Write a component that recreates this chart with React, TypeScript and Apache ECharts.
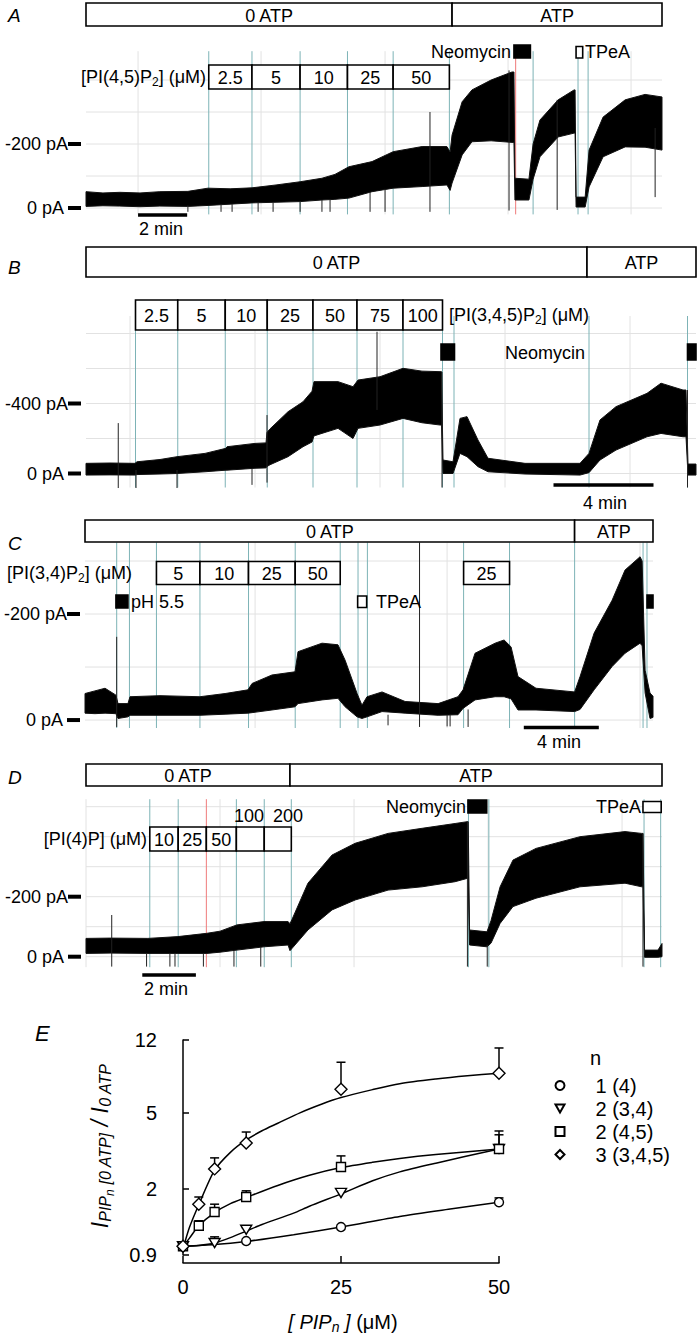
import React, { useEffect, useRef } from 'react';
import * as echarts from 'echarts';

const FONT = '"Liberation Sans", Arial, Helvetica, sans-serif';
const TEAL = '#7db3b6';
const RED = '#ef7a7a';
const GRIDC = '#e2e2e2';

// ---------------- Panel A : PI(4,5)P2 (time in min, current in pA) ----------------
const A_time = [0, 0.69, 1.38, 2.2, 3.01, 4.15, 4.97, 5.87, 6.76, 7.74, 8.72, 9.61, 10.14, 10.71, 11.65, 12.51, 13.69, 14.7, 14.83, 14.91, 15.32, 15.72, 16.5, 17.35, 17.43, 17.47, 18.04, 18.21, 18.49, 19.23, 19.88, 19.92, 19.96, 20.33, 20.49, 21.06, 21.96, 22.77, 23.46];
const A_upper = [-51, -47, -49, -47, -51, -52, -62, -60, -63, -72, -82, -93, -105, -129, -145, -176, -192, -192, -175, -228, -332, -369, -400, -425, -425, -93, -90, -200, -275, -338, -369, -369, -34, -34, -181, -284, -338, -355, -347];
const A_lower = [-5, -7, -6, -4, -6, -5, -8, -12, -16, -18, -20, -25, -27, -31, -51, -62, -67, -72, -55, -78, -166, -207, -210, -205, -205, -25, -25, -90, -160, -222, -234, -234, -3, -3, -66, -160, -191, -190, -181];
const A_atpEdges = [0, 14.91, 23.46];
const A_atpLabels = ['0 ATP', 'ATP'];
const A_concEdges = [5.0, 6.76, 8.72, 10.65, 12.51, 14.8];
const A_concLabels = ['2.5', '5', '10', '25', '50'];
const A_teal = [5.0, 6.76, 8.72, 10.65, 12.51, 14.8, 18.21, 20.04, 20.45];
const A_red = [17.5];
const A_vgrid = [2.12, 7.13, 12.18, 17.19, 22.2];
const A_hgrid = [-400, -300, -200, -100, 0];
const A_ticks = [-200, 0];
const A_spikes = [[4.15, -8, 12], [5.5, -10, 12], [5.95, -12, 12], [7.01, -16, 12], [7.62, -18, 12], [8.72, -20, 12], [9.61, -25, 12], [9.94, -25, 12], [11.57, -50, 12], [12.18, -60, 12], [14.01, -300, 12], [17.23, -430, 8], [19.19, -338, 6], [23.18, -250, -34]];
const A_neomycin = [[17.43, 18.1]];
const A_tpea = [[19.96, 20.23]];
const A_scale = [2.12, 4.12];

// ---------------- Panel B : PI(3,4,5)P3 ----------------
const B_time = [0, 0.96, 1.96, 2.04, 2.96, 3.64, 4.76, 5.6, 5.64, 6.76, 7.2, 7.24, 7.36, 8.08, 8.68, 9.04, 9.12, 10.08, 10.68, 10.88, 11.76, 12.68, 13.44, 14.16, 14.22, 14.28, 14.68, 14.96, 15.24, 15.68, 16.08, 17.56, 19.76, 20.12, 20.56, 21.2, 22.44, 23.0, 23.88, 24.0, 24.08, 24.4];
const B_upper = [-58, -60, -58, -67, -80, -96, -115, -144, -153, -172, -175, -235, -255, -353, -410, -470, -525, -525, -496, -534, -553, -601, -585, -582, -582, -77, -67, -315, -325, -191, -87, -58, -58, -115, -306, -382, -458, -516, -477, -477, -54, -54];
const B_lower = [9, 8, 9, 6, 3, 0, -10, -19, -19, -30, -32, -40, -50, -96, -153, -180, -215, -258, -200, -258, -277, -315, -290, -277, -277, 0, 0, -115, -96, -39, -10, 3, 9, -5, -77, -134, -210, -229, -210, -210, 9, 9];
const B_atpEdges = [0, 20.04, 24.4];
const B_atpLabels = ['0 ATP', 'ATP'];
const B_concEdges = [1.98, 3.67, 5.57, 7.25, 9.08, 10.84, 12.68, 14.26];
const B_concLabels = ['2.5', '5', '10', '25', '50', '75', '100'];
const B_teal = [1.98, 3.67, 5.57, 7.25, 9.08, 10.84, 12.68, 14.26, 14.72, 20.12, 24.06];
const B_vgrid = [1.76, 6.76, 11.76, 16.76, 21.76];
const B_hgrid = [-800, -600, -400, -200, 0];
const B_ticks = [-400, 0];
const B_spikes = [[1.29, -288, 83], [2.0, -20, 83], [3.64, -20, 83], [6.64, -30, 65], [7.24, -334, 52], [11.64, -810, -363], [14.24, -580, 80], [24.06, -477, 80]];
const B_neomycin = [[14.2, 14.74], [24.06, 24.4]];
const B_scale = [18.7, 22.7];

// ---------------- Panel C : PI(3,4)P2 ----------------
const C_time = [0, 0.53, 1.07, 1.65, 1.76, 2.29, 2.4, 4.0, 6.13, 7.47, 8.69, 8.91, 9.97, 11.2, 11.36, 12.64, 13.49, 13.87, 14.51, 14.77, 15.04, 15.84, 17.07, 18.83, 19.89, 20.16, 20.8, 21.87, 22.35, 22.72, 23.09, 24.05, 26.11, 26.4, 27.15, 28.11, 28.8, 29.6, 29.71, 29.87, 30.13, 30.29];
const C_upper = [-50, -55, -60, -47, -31, -31, -44, -46, -44, -50, -57, -69, -85, -91, -129, -145, -142, -113, -50, -28, -44, -53, -35, -31, -44, -57, -126, -145, -151, -138, -82, -60, -53, -82, -164, -226, -283, -308, -300, -94, -51, -45];
const C_lower = [-13, -12, -13, -12, -3, -6, -9, -9, -9, -11, -13, -14, -19, -25, -31, -38, -41, -25, -6, -3, -6, -16, -13, -9, -10, -22, -38, -44, -44, -40, -19, -19, -16, -20, -57, -101, -126, -145, -140, -51, -3, -5];
const C_atpEdges = [0, 26.11, 30.29];
const C_atpLabels = ['0 ATP', 'ATP'];
const C_concEdges = [3.81, 6.13, 8.72, 11.21, 13.61];
const C_concLabels = ['5', '10', '25', '50'];
const C_conc2Edges = [20.19, 22.64];
const C_conc2Labels = ['25'];
const C_teal = [1.69, 2.37, 3.81, 6.13, 8.72, 11.21, 13.61, 14.56, 15.06, 20.19, 22.64, 26.11, 29.76, 29.97];
const C_vgrid = [9.07, 19.31, 29.6];
const C_hgrid = [-300, -200, -100, 0];
const C_ticks = [-200, 0];
const C_spikes = [[1.69, -157, 13], [16.16, -10, 10], [17.84, -335, 13], [19.31, -10, 12], [19.47, -10, 12], [20.43, -20, 13]];
const C_ph = [[1.65, 2.29], [29.97, 30.29]];
const C_tpea = [[14.54, 15.02]];
const C_scale = [23.4, 27.4];

// ---------------- Panel D : PI(4)P ----------------
const D_time = [0, 0.9, 2.31, 3.43, 4.51, 5.0, 5.63, 6.64, 7.54, 7.61, 7.69, 8.28, 9.18, 10.04, 11.27, 12.54, 13.77, 14.22, 14.26, 14.31, 14.96, 15.11, 15.45, 15.93, 16.79, 18.43, 20.11, 20.73, 20.78, 20.84, 21.34, 21.49];
const D_upper = [-61, -62, -61, -67, -78, -85, -106, -117, -117, -110, -125, -245, -339, -378, -411, -428, -444, -450, -450, -89, -83, -120, -233, -322, -361, -400, -417, -411, -411, -22, -22, -44];
const D_lower = [-11, -12, -11, -11, -11, -15, -22, -33, -39, -20, -28, -89, -156, -189, -222, -233, -250, -261, -261, -39, -33, -45, -111, -167, -195, -233, -245, -233, -233, 2, 2, 0];
const D_atpEdges = [0, 7.61, 21.49];
const D_atpLabels = ['0 ATP', 'ATP'];
const D_concEdges = [2.38, 3.44, 4.49, 5.61, 6.65, 7.66];
const D_concLabels = ['10', '25', '50', '', ''];
const D_teal = [2.38, 3.44, 5.61, 6.65, 7.66, 14.27, 15.03, 20.82, 21.44];
const D_red = [4.49];
const D_vgrid = [0, 5, 10, 15, 20];
const D_hgrid = [-500, -400, -300, -200, -100, 0];
const D_ticks = [-200, 0];
const D_spikes = [[0.96, -139, 33], [2.26, -11, 33], [3.13, -11, 33], [3.32, -11, 33], [4.38, -11, 33], [5.52, -20, 33], [6.52, -33, 33], [14.23, -450, 33], [14.97, -40, 33], [20.78, -411, 33]];
const D_neomycin = [[14.25, 14.95]];
const D_tpea = [[20.78, 21.46]];
const D_scale = [2.1, 4.1];

// ---------------- Panel E : dose-response ----------------
const E_names = ['1 (4)', '2 (3,4)', '2 (4,5)', '3 (3,4,5)'];
const E_x1 = [0, 10, 25, 50];
const E_y1 = [1.0, 1.065, 1.26, 1.7];
const E_e1 = [null, null, null, 1.79];
const E_x2 = [0, 5, 10, 25, 50];
const E_y2 = [1.0, 1.04, 1.22, 1.9, 3.23];
const E_e2 = [null, 1.12, 1.25, 1.97, 3.83];
const E_x3 = [0, 2.5, 5, 10, 25, 50];
const E_y3 = [1.0, 1.28, 1.51, 1.81, 2.6, 3.23];
const E_e3 = [null, 1.36, 1.66, 1.95, 2.97, 4.01];
const E_x4 = [0, 2.5, 5, 10, 25, 50];
const E_y4 = [1.0, 1.66, 2.54, 3.47, 6.63, 8.04];
const E_e4 = [null, 1.81, 2.9, 3.96, 9.18, 10.9];
// fitted curves
const E_fitX1 = [0, 5, 10, 17.5, 25, 34.3, 42, 50];
const E_fitY1 = [1.0, 1.02, 1.06, 1.15, 1.26, 1.43, 1.56, 1.7];
const E_fitX2 = [0, 2.5, 5, 7.5, 10, 12.5, 17.5, 20, 25, 30, 34.3, 40, 50];
const E_fitY2 = [1.0, 1.01, 1.04, 1.11, 1.2, 1.3, 1.49, 1.62, 1.88, 2.2, 2.45, 2.72, 3.23];
const E_fitX3 = [0, 1, 2.5, 5, 7.5, 10, 15, 20, 25, 30, 34.3, 40, 50];
const E_fitY3 = [1.0, 1.1, 1.28, 1.5, 1.67, 1.8, 2.08, 2.35, 2.58, 2.75, 2.88, 3.02, 3.23];
const E_fitX4 = [0, 1, 2.5, 5, 7.5, 10, 12.5, 15, 18.5, 22, 25, 30, 34.3, 40, 45, 50];
const E_fitY4 = [0.97, 1.25, 1.65, 2.5, 3.1, 3.6, 4.02, 4.4, 4.99, 5.55, 6.0, 6.6, 7.09, 7.5, 7.8, 8.05];
const E_yTicks = [0.9, 2, 5, 12];

// ---------------- layout ----------------
const LAYOUT = [
  { left: 86, top: 51.2, width: 576, height: 163.2, xmax: 23.46, ymin: -490, ymax: 20 },
  { left: 86, top: 316, width: 610, height: 171.5, xmax: 24.4, ymin: -900, ymax: 80 },
  { left: 85, top: 542.45, width: 568, height: 185.55, xmax: 30.29, ymin: -335, ymax: 15 },
  { left: 86, top: 799.2, width: 576, height: 168, xmax: 21.49, ymin: -525, ymax: 35 },
];

function base(gi: number, z: number) {
  return { type: 'custom', xAxisIndex: gi, yAxisIndex: gi, silent: true, z, clip: false, animation: false };
}

function vLines(gi: number, times: number[], color: string, z: number) {
  return {
    ...base(gi, z),
    data: times.map((t) => [t, 0]),
    renderItem: (params: any, api: any) => {
      const cs = params.coordSys;
      const x = api.coord([api.value(0), 0])[0];
      return { type: 'line', shape: { x1: x, y1: cs.y, x2: x, y2: cs.y + cs.height }, style: { stroke: color, lineWidth: 1 } };
    },
  };
}

function hLines(gi: number, vals: number[]) {
  return {
    ...base(gi, 1),
    data: vals.map((v) => [0, v]),
    renderItem: (params: any, api: any) => {
      const cs = params.coordSys;
      const y = api.coord([0, api.value(1)])[1];
      return { type: 'line', shape: { x1: cs.x, y1: y, x2: cs.x + cs.width, y2: y }, style: { stroke: GRIDC, lineWidth: 1 } };
    },
  };
}

function band(gi: number, time: number[], upper: number[], lower: number[]) {
  return {
    ...base(gi, 4),
    data: [[time[0], upper[0]]],
    renderItem: (params: any, api: any) => {
      const pts: number[][] = [];
      for (let i = 0; i < time.length; i++) pts.push(api.coord([time[i], upper[i]]));
      for (let i = time.length - 1; i >= 0; i--) pts.push(api.coord([time[i], lower[i]]));
      return { type: 'polygon', shape: { points: pts }, style: { fill: '#000', stroke: '#111', lineWidth: 1 } };
    },
  };
}

function spikes(gi: number, list: number[][]) {
  return {
    ...base(gi, 5),
    data: list,
    renderItem: (params: any, api: any) => {
      const p1 = api.coord([api.value(0), api.value(1)]);
      const p2 = api.coord([api.value(0), api.value(2)]);
      return { type: 'line', shape: { x1: p1[0], y1: p1[1], x2: p2[0], y2: p2[1] }, style: { stroke: '#222', lineWidth: 1 } };
    },
  };
}

function boxRow(gi: number, edges: number[], labels: string[], y0: number, y1: number) {
  return {
    ...base(gi, 6),
    data: labels.map((_, i) => [edges[i], edges[i + 1], i]),
    renderItem: (params: any, api: any) => {
      const xa = api.coord([api.value(0), 0])[0];
      const xb = api.coord([api.value(1), 0])[0];
      const lab = labels[api.value(2)];
      return {
        type: 'group',
        children: [
          { type: 'rect', shape: { x: xa, y: y0, width: xb - xa, height: y1 - y0 }, style: { fill: '#fff', stroke: '#000', lineWidth: 1.6 } },
          { type: 'text', x: (xa + xb) / 2, y: (y0 + y1) / 2 + 1, style: { text: lab, fill: '#000', fontSize: 18, fontFamily: FONT, align: 'center', verticalAlign: 'middle' } },
        ],
      };
    },
  };
}

function squares(gi: number, list: number[][], y0: number, y1: number, filled: boolean) {
  return {
    ...base(gi, 7),
    data: list.map((iv) => [iv[0], iv[1]]),
    renderItem: (params: any, api: any) => {
      const xa = api.coord([api.value(0), 0])[0];
      const xb = api.coord([api.value(1), 0])[0];
      return { type: 'rect', shape: { x: xa, y: y0, width: xb - xa, height: y1 - y0 }, style: { fill: filled ? '#000' : '#fff', stroke: '#000', lineWidth: 1.6 } };
    },
  };
}

function scaleBar(gi: number, tt: number[], y: number) {
  return {
    ...base(gi, 7),
    data: [[tt[0], tt[1]]],
    renderItem: (params: any, api: any) => {
      const xa = api.coord([api.value(0), 0])[0];
      const xb = api.coord([api.value(1), 0])[0];
      return { type: 'line', shape: { x1: xa, y1: y, x2: xb, y2: y }, style: { stroke: '#000', lineWidth: 3.5 } };
    },
  };
}

function txt(text: string, x: number, y: number, align: string, extra: any = {}) {
  return {
    type: 'text', x, y, z: 20, silent: true,
    style: { text, fill: '#000', fontSize: 18, fontFamily: FONT, align, textAlign: align, verticalAlign: 'middle', textVerticalAlign: 'middle', ...extra },
  };
}

const SUBRICH = {
  a: { fontSize: 18, fontFamily: FONT, color: '#000' },
  s: { fontSize: 12, fontFamily: FONT, color: '#000', padding: [9, 0, 0, 0] },
};

function buildOption() {
  const grids: any[] = LAYOUT.map((L) => ({ left: L.left, top: L.top, width: L.width, height: L.height }));
  grids.push({ left: 183, top: 1040, width: 316, height: 215 });

  const ticks = [A_ticks, B_ticks, C_ticks, D_ticks];
  const xAxes: any[] = LAYOUT.map((L, i) => ({ gridIndex: i, type: 'value', min: 0, max: L.xmax, show: false }));
  const yAxes: any[] = LAYOUT.map((L, i) => ({
    gridIndex: i, type: 'value', inverse: true, min: L.ymin, max: L.ymax,
    axisLine: { show: false }, axisTick: { show: false }, splitLine: { show: false },
    axisLabel: {
      customValues: ticks[i], margin: 5,
      formatter: (v: number) => (v === 0 ? '{t|0 pA }{b| }' : '{t|' + v + ' pA}{b| }'),
      rich: {
        t: { fontSize: 18, fontFamily: FONT, color: '#000' },
        b: { width: 13, height: 4, backgroundColor: '#000' },
      },
    },
  }));
  xAxes.push({
    gridIndex: 4, type: 'value', min: 0, max: 50, interval: 25, offset: 8,
    axisLine: { lineStyle: { color: '#000', width: 1.5 } },
    axisTick: { inside: true, length: 7, lineStyle: { color: '#000', width: 1.5 } },
    axisLabel: { color: '#000', fontSize: 20, fontFamily: FONT, margin: 14 },
    splitLine: { show: false },
  });
  yAxes.push({
    gridIndex: 4, type: 'log', logBase: 10, min: 0.9, max: 12, offset: 15,
    axisLine: { show: true, lineStyle: { color: '#000', width: 1.5 } },
    axisTick: { show: true, inside: true, length: 6, customValues: E_yTicks, lineStyle: { color: '#000', width: 1.5 } },
    axisLabel: { customValues: E_yTicks, color: '#000', fontSize: 20, fontFamily: FONT, margin: 11, formatter: (v: number) => String(Math.round(v * 10) / 10) },
    splitLine: { show: false }, minorTick: { show: false },
  });

  const series: any[] = [];
  const panels = [
    { t: A_time, u: A_upper, l: A_lower, vg: A_vgrid, hg: A_hgrid, teal: A_teal, red: A_red, sp: A_spikes },
    { t: B_time, u: B_upper, l: B_lower, vg: B_vgrid, hg: B_hgrid, teal: B_teal, red: [], sp: B_spikes },
    { t: C_time, u: C_upper, l: C_lower, vg: C_vgrid, hg: C_hgrid, teal: C_teal, red: [], sp: C_spikes },
    { t: D_time, u: D_upper, l: D_lower, vg: D_vgrid, hg: D_hgrid, teal: D_teal, red: D_red, sp: D_spikes },
  ];
  panels.forEach((p, gi) => {
    series.push(hLines(gi, p.hg));
    series.push(vLines(gi, p.vg, GRIDC, 1));
    series.push(vLines(gi, p.teal, TEAL, 2));
    if (p.red.length) series.push(vLines(gi, p.red, RED, 3));
    series.push(band(gi, p.t, p.u, p.l));
    series.push(spikes(gi, p.sp));
  });

  // protocol bars
  series.push(boxRow(0, A_atpEdges, A_atpLabels, 3, 26));
  series.push(boxRow(0, A_concEdges, A_concLabels, 65, 89));
  series.push(squares(0, A_neomycin, 45, 58, true));
  series.push(squares(0, A_tpea, 46.5, 58, false));
  series.push(scaleBar(0, A_scale, 215));

  series.push(boxRow(1, B_atpEdges, B_atpLabels, 247, 277));
  series.push(boxRow(1, B_concEdges, B_concLabels, 300, 330));
  series.push(squares(1, B_neomycin, 344, 360, true));
  series.push(scaleBar(1, B_scale, 485));

  series.push(boxRow(2, C_atpEdges, C_atpLabels, 520, 542));
  series.push(boxRow(2, C_concEdges, C_concLabels, 561.5, 584.5));
  series.push(boxRow(2, C_conc2Edges, C_conc2Labels, 561.5, 584.5));
  series.push(squares(2, C_ph, 595, 608, true));
  series.push(squares(2, C_tpea, 596, 607.5, false));
  series.push(scaleBar(2, C_scale, 727.5));

  series.push(boxRow(3, D_atpEdges, D_atpLabels, 764, 786));
  series.push(boxRow(3, D_concEdges, D_concLabels, 827, 851));
  series.push(squares(3, D_neomycin, 800, 813, true));
  series.push(squares(3, D_tpea, 801.5, 812.5, false));
  series.push(scaleBar(3, D_scale, 975));

  // panel E
  const groups = [
    { x: E_x1, y: E_y1, e: E_e1, fx: E_fitX1, fy: E_fitY1, symbol: 'circle', size: 9 },
    { x: E_x2, y: E_y2, e: E_e2, fx: E_fitX2, fy: E_fitY2, symbol: 'path://M0,0L10,0L5,8.66Z', size: [11, 9] },
    { x: E_x3, y: E_y3, e: E_e3, fx: E_fitX3, fy: E_fitY3, symbol: 'rect', size: 9 },
    { x: E_x4, y: E_y4, e: E_e4, fx: E_fitX4, fy: E_fitY4, symbol: 'diamond', size: 12 },
  ];
  groups.forEach((g, k) => {
    series.push({
      type: 'line', name: 'fit' + k, xAxisIndex: 4, yAxisIndex: 4, z: 2, silent: true,
      data: g.fx.map((v, i) => [v, g.fy[i]]), smooth: 0.25, showSymbol: false, symbol: 'none',
      lineStyle: { color: '#000', width: 1.5 },
    });
    const errData = g.x.map((v, i) => [v, g.y[i], g.e[i]]).filter((d) => d[2] != null);
    series.push({
      type: 'custom', name: 'err' + k, xAxisIndex: 4, yAxisIndex: 4, z: 3, silent: true,
      data: errData,
      renderItem: (params: any, api: any) => {
        const p = api.coord([api.value(0), api.value(1)]);
        const q = api.coord([api.value(0), api.value(2)]);
        return {
          type: 'group',
          children: [
            { type: 'line', shape: { x1: p[0], y1: p[1], x2: q[0], y2: q[1] }, style: { stroke: '#000', lineWidth: 1.5 } },
            { type: 'line', shape: { x1: q[0] - 4.5, y1: q[1], x2: q[0] + 4.5, y2: q[1] }, style: { stroke: '#000', lineWidth: 1.5 } },
          ],
        };
      },
    });
    series.push({
      type: 'scatter', name: E_names[k], xAxisIndex: 4, yAxisIndex: 4, z: 5,
      data: g.x.map((v, i) => [v, g.y[i]]), symbol: g.symbol, symbolSize: g.size,
      itemStyle: { color: '#fff', borderColor: '#000', borderWidth: 1.4, opacity: 1 },
    });
  });

  const graphic: any[] = [
    txt('A', 8, 15, 'left', { fontStyle: 'italic', fontSize: 19 }),
    txt('B', 8, 267, 'left', { fontStyle: 'italic', fontSize: 19 }),
    txt('C', 8, 543, 'left', { fontStyle: 'italic', fontSize: 19 }),
    txt('D', 8, 777, 'left', { fontStyle: 'italic', fontSize: 19 }),
    txt('E', 35, 1033, 'left', { fontStyle: 'italic', fontSize: 22 }),
    txt('{a|[PI(4,5)P}{s|2}{a|] (μM)}', 206, 77, 'right', { rich: SUBRICH }),
    txt('Neomycin', 511, 52, 'right'),
    txt('TPeA', 585, 52, 'left'),
    txt('2 min', 161, 229, 'center'),
    txt('{a|[PI(3,4,5)P}{s|2}{a|] (μM)}', 449, 315, 'left', { rich: SUBRICH }),
    txt('Neomycin', 545, 353, 'center'),
    txt('4 min', 605, 503, 'center'),
    txt('{a|[PI(3,4)P}{s|2}{a|] (μM)}', 132, 573, 'right', { rich: SUBRICH }),
    txt('pH 5.5', 131, 602, 'left'),
    txt('TPeA', 376, 602, 'left'),
    txt('4 min', 559, 742, 'center'),
    txt('[PI(4)P] (μM)', 147, 839, 'right'),
    txt('100', 249, 816, 'center'),
    txt('200', 288, 816, 'center'),
    txt('Neomycin', 466, 807, 'right'),
    txt('TPeA', 641, 807, 'right'),
    txt('2 min', 166, 989, 'center'),
    txt('n', 590, 1058, 'left', { fontSize: 20 }),
    txt('{i|[ PIP}{sub|n}{i| ]}{r| (μM)}', 343, 1322, 'center', {
      rich: {
        i: { fontSize: 20, fontStyle: 'italic', fontFamily: FONT, color: '#000' },
        sub: { fontSize: 14, fontStyle: 'italic', fontFamily: FONT, color: '#000', padding: [10, 0, 0, 0] },
        r: { fontSize: 20, fontFamily: FONT, color: '#000' },
      },
    }),
    {
      type: 'text', x: 100, y: 1146, rotation: Math.PI / 2, z: 20, silent: true,
      style: {
        text: '{I|I}{s|PIP}{n|n}{s| [0 ATP]}{m| / }{I|I}{s|0 ATP}',
        align: 'center', textAlign: 'center', verticalAlign: 'middle', textVerticalAlign: 'middle',
        fontFamily: FONT, fill: '#000',
        rich: {
          I: { fontSize: 23, fontStyle: 'italic', fontFamily: FONT, color: '#000' },
          m: { fontSize: 23, fontStyle: 'italic', fontFamily: FONT, color: '#000' },
          s: { fontSize: 16, fontStyle: 'italic', fontFamily: FONT, color: '#000', padding: [11, 0, 0, 0] },
          n: { fontSize: 12, fontStyle: 'italic', fontFamily: FONT, color: '#000', padding: [19, 0, 0, 0] },
        },
      },
    },
  ];

  return {
    animation: false,
    backgroundColor: '#fff',
    grid: grids,
    xAxis: xAxes,
    yAxis: yAxes,
    legend: {
      data: E_names, orient: 'vertical', left: 549.5, top: 1070.5, itemWidth: 9, itemHeight: 9, itemGap: 3,
      selectedMode: false,
      textStyle: { fontSize: 20, fontFamily: FONT, color: '#000', lineHeight: 20, padding: [0, 0, 0, 26] },
    },
    graphic,
    series,
  };
}

export default function App() {
  const ref = useRef<HTMLDivElement>(null);
  useEffect(() => {
    const chart = echarts.init(ref.current as HTMLDivElement, null, { renderer: 'svg' });
    chart.setOption(buildOption() as any);
    return () => chart.dispose();
  }, []);
  return <div ref={ref} style={{ position: 'absolute', left: 0, top: 0, width: 700, height: 1335, background: '#fff' }} />;
}
